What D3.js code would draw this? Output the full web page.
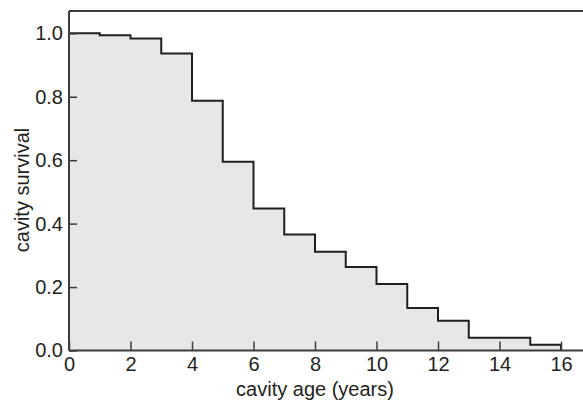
<!DOCTYPE html>
<html>
<head>
<meta charset="utf-8">
<script src="https://cdn.jsdelivr.net/npm/d3@7"></script>
<style>
  body { margin: 0; background: #fff; }
  svg text { font-family: "Liberation Sans", Arial, sans-serif; fill: #231f20; }
</style>
</head>
<body>
<div class="chart"></div>
<script>
// step boundaries (years) and survival in each interval
const ages = [0, 1, 2, 3, 4, 5, 6, 7, 8, 9, 10, 11, 12, 13, 14, 15, 16];
const survival = [1.0, 0.994, 0.984, 0.936, 0.787, 0.595, 0.448, 0.366, 0.311, 0.263, 0.210, 0.134, 0.094, 0.040, 0.040, 0.018];
const xTicks = [0, 2, 4, 6, 8, 10, 12, 14, 16];
const yTicks = [0, 0.2, 0.4, 0.6, 0.8, 1.0];

const W = 583, H = 403;
const plotLeft = 69, plotRight = 561, plotTop = 11, plotBottom = 350.5;
const fs = 20;

const svg = d3.select(".chart").append("svg")
  .attr("width", W).attr("height", H);

const x = d3.scaleLinear().domain([0, 16]).range([plotLeft, plotRight]);
const y = d3.scaleLinear().domain([0, 1]).range([plotBottom, 33.3]);

// step points
const pts = [];
survival.forEach((v, i) => {
  pts.push([ages[i], v]);
  pts.push([ages[i + 1], v]);
});

const area = d3.area()
  .x(d => x(d[0]))
  .y0(y(0))
  .y1(d => y(d[1]));

svg.append("path")
  .datum(pts)
  .attr("fill", "#e6e7e8")
  .attr("d", area);

const line = d3.line()
  .x(d => x(d[0]))
  .y(d => y(d[1]));

svg.append("path")
  .datum(pts.concat([[16, 0]]))
  .attr("fill", "none")
  .attr("stroke", "#231f20")
  .attr("stroke-width", 2)
  .attr("d", line);

// frame line at top
svg.append("line")
  .attr("x1", plotLeft).attr("x2", W).attr("y1", plotTop).attr("y2", plotTop)
  .attr("stroke", "#3c3c3c").attr("stroke-width", 2);

const xAxis = svg.append("g")
  .attr("transform", `translate(0,${plotBottom})`)
  .call(d3.axisBottom(x).tickValues(xTicks).tickFormat(d3.format("d"))
    .tickSizeInner(-9).tickSizeOuter(0).tickPadding(6));
xAxis.select(".domain").attr("d", `M${plotLeft},0H${W}`);

const yAxis = svg.append("g")
  .attr("transform", `translate(${plotLeft},0)`)
  .call(d3.axisLeft(y).tickValues(yTicks).tickFormat(d3.format(".1f"))
    .tickSizeInner(-8).tickSizeOuter(0).tickPadding(6));
yAxis.select(".domain").attr("d", `M0,${plotTop}V${plotBottom}`);

svg.selectAll(".domain").attr("stroke", "#3c3c3c").attr("stroke-width", 2);
svg.selectAll(".tick line").attr("stroke", "#3c3c3c").attr("stroke-width", 1.5);
svg.selectAll(".tick text").attr("font-size", fs).attr("font-family", null).attr("fill", "#231f20");

svg.append("text")
  .attr("x", x(8)).attr("y", 396)
  .attr("text-anchor", "middle")
  .attr("font-size", fs)
  .text("cavity age (years)");

svg.append("text")
  .attr("transform", `translate(28.5,190) rotate(-90)`)
  .attr("text-anchor", "middle")
  .attr("font-size", fs)
  .text("cavity survival");
</script>
</body>
</html>
